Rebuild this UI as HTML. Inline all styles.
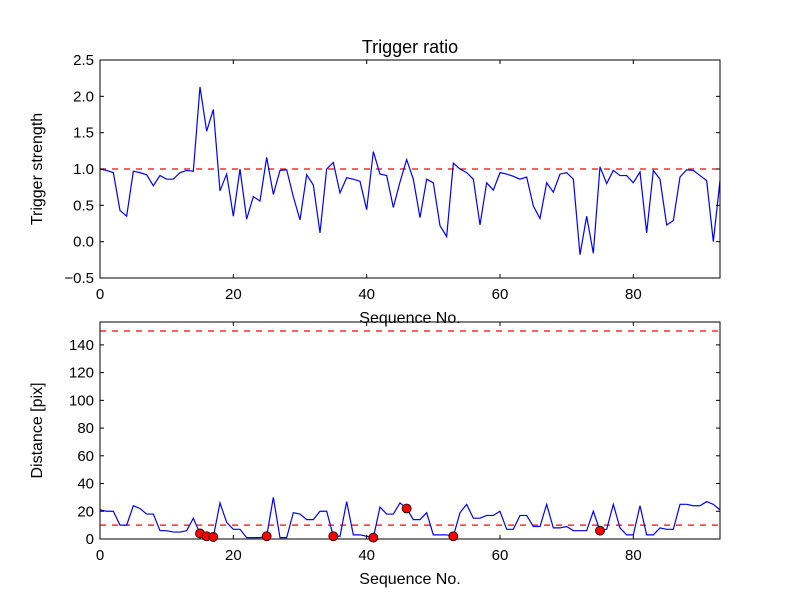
<!DOCTYPE html>
<html><head><meta charset="utf-8"><style>body{margin:0;background:#fff}svg text{font-family:"Liberation Sans",sans-serif}</style></head>
<body>
<svg id="c" width="800" height="600" xmlns="http://www.w3.org/2000/svg"></svg>
<script>
const seqTop=[1.0,0.98,0.95,0.43,0.35,0.97,0.95,0.92,0.77,0.91,0.86,0.86,0.95,0.98,0.97,2.13,1.52,1.82,0.7,0.93,0.35,1.0,0.31,0.62,0.56,1.16,0.65,0.98,0.99,0.62,0.3,0.92,0.78,0.12,1.0,1.09,0.67,0.88,0.86,0.83,0.44,1.24,0.93,0.91,0.47,0.82,1.13,0.86,0.33,0.86,0.81,0.22,0.07,1.08,1.0,0.95,0.86,0.23,0.81,0.71,0.95,0.93,0.9,0.86,0.89,0.49,0.32,0.81,0.68,0.93,0.95,0.86,-0.18,0.35,-0.16,1.03,0.8,0.98,0.91,0.91,0.81,0.96,0.12,0.98,0.86,0.23,0.29,0.89,0.99,0.98,0.91,0.84,0.0,0.84];
const seqBot=[21,20,20,10,10,24,22,18,18,6,6,5,5,6,15,4,2,1.5,26,12,7,7,1,1,1,2,30,1,1,19,18,14,14,20,20,2,2,27,3,3,2,1,23,18,18,26,22,14,14,19,3,3,3,2,19,25,15,15,17,17,20,7,7,17,17,9,9,25,8,8,9,6,6,6,20,6,7,25,8,3,3,24,3,3,8,7,7,25,25,24,24,27,25,21];
const markIdx=[15,16,17,25,35,41,46,53,75];
const topTicks=[-0.5,0.0,0.5,1.0,1.5,2.0,2.5];
const botTicks=[0,20,40,60,80,100,120,140];
const xTicks=[0,20,40,60,80];
const topThresh=[1.0];
const botThresh=[10,150];

const svg=document.getElementById('c');const NS='http://www.w3.org/2000/svg';
function mk(t,a,p,name,txt){const e=document.createElementNS(NS,t);for(const k in a)e.setAttribute(k,a[k]);


if(txt!==undefined)e.textContent=txt;(p||svg).appendChild(e);return e;}
const X0=100,X1=720,XMAX=93;
const sx=v=>X0+(X1-X0)*v/XMAX;
function panel(top,bot,ymin,ymax,yTicks,fmt,data,thr,yl,name){
  const sy=v=>bot-(bot-top)*(v-ymin)/(ymax-ymin);
  const g=mk('g',{},svg,name);
  thr.forEach(t=>mk('line',{x1:X0,x2:X1,y1:sy(t),y2:sy(t),stroke:'#f00','stroke-width':1.2,'stroke-dasharray':'6,6'},g,'threshold-line'));
  mk('polyline',{points:data.map((v,i)=>sx(i)+','+sy(v)).join(' '),fill:'none',stroke:'#00f','stroke-width':1.2},g,'series-line');
  mk('rect',{x:X0,y:top,width:X1-X0,height:bot-top,fill:'none',stroke:'#000','stroke-width':1},g,'plot-frame');
  yTicks.forEach(t=>{const y=sy(t);mk('line',{x1:X0,x2:X0+4,y1:y,y2:y,stroke:'#000'},g,'y-tick');mk('line',{x1:X1,x2:X1-4,y1:y,y2:y,stroke:'#000'},g,'y-tick');
    mk('text',{x:X0-6,y:y+5,'text-anchor':'end','font-size':15},g,'y-tick-label',fmt(t));});
  xTicks.forEach(t=>{const x=sx(t);mk('line',{x1:x,x2:x,y1:bot,y2:bot-4,stroke:'#000'},g,'x-tick');mk('line',{x1:x,x2:x,y1:top,y2:top+4,stroke:'#000'},g,'x-tick');
    mk('text',{x:x,y:bot+21,'text-anchor':'middle','font-size':15},g,'x-tick-label',String(t));});
  mk('text',{x:410,y:bot+45,'text-anchor':'middle','font-size':16},g,'x-axis-title','Sequence No.');
  const cy=(top+bot)/2;mk('text',{x:0,y:0,transform:`translate(${X0-58},${cy}) rotate(-90)`,'text-anchor':'middle','font-size':16},g,'y-axis-title',yl);
  return {g,sy};
}
const p1=panel(60,278,-0.5,2.5,topTicks,t=>t.toFixed(1).replace('-','\u2212'),seqTop,topThresh,'Trigger strength','top-panel');
mk('text',{x:410,y:53,'text-anchor':'middle','font-size':18},svg,'chart-title','Trigger ratio');
const p2=panel(322,539,0,156.5,botTicks,t=>String(t),seqBot,botThresh,'Distance [pix]','bottom-panel');
markIdx.forEach(i=>mk('circle',{cx:sx(i),cy:p2.sy(seqBot[i]),r:4.5,fill:'#f00',stroke:'#000','stroke-width':0.8},p2.g,'flagged-point'));
</script>
</body></html>
